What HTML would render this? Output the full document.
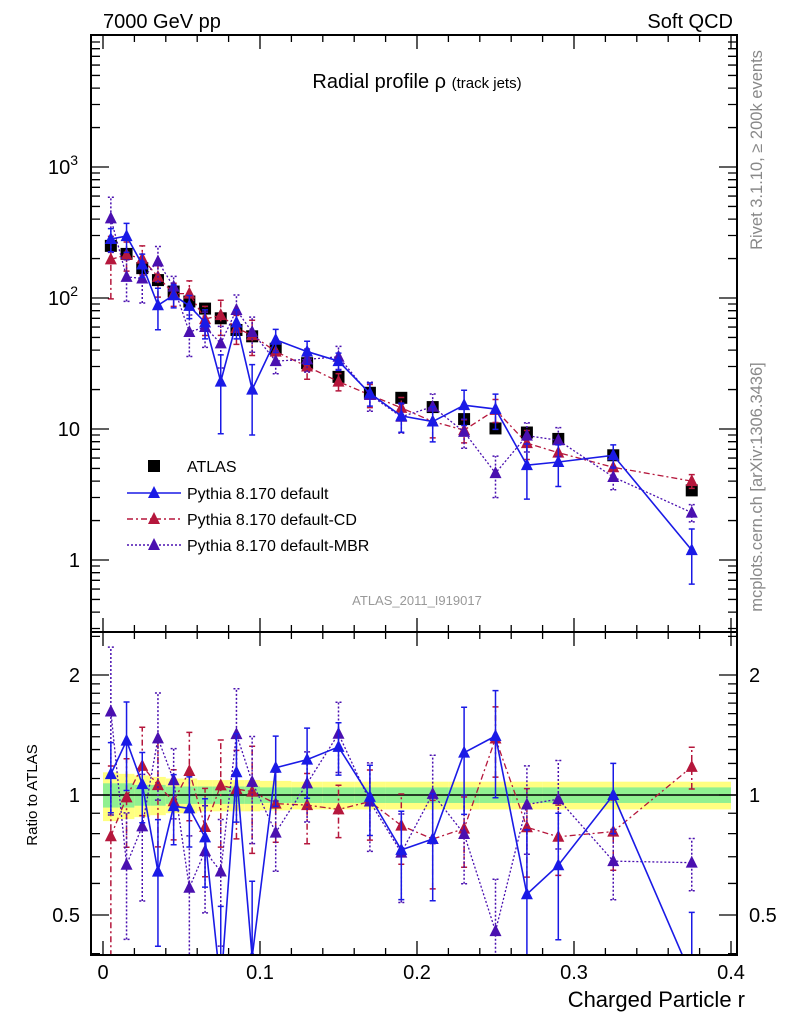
<!DOCTYPE html>
<html><head><meta charset="utf-8">
<style>
html,body{margin:0;padding:0;background:#fff;width:786px;height:1024px;overflow:hidden;}
svg{display:block;font-family:"Liberation Sans","DejaVu Sans",sans-serif;}
</style></head>
<body>
<svg id="chart" width="786" height="1024" viewBox="0 0 786 1024" xmlns="http://www.w3.org/2000/svg">
<defs>
<clipPath id="clipTop"><rect x="91" y="35" width="646" height="597"/></clipPath>
<clipPath id="clipBot"><rect x="91" y="632" width="646" height="323"/></clipPath>
</defs>
<rect x="0" y="0" width="786" height="1024" fill="#fff"/>
<g id="bands" clip-path="url(#clipBot)"></g>
<g id="topMarks" clip-path="url(#clipTop)"></g>
<g id="botMarks" clip-path="url(#clipBot)"></g>
<g id="axes"></g>
<text x="103" y="28" font-size="20">7000 GeV pp</text>
<text x="733" y="28" font-size="20" text-anchor="end">Soft QCD</text>
<text x="417" y="88" font-size="20" text-anchor="middle">Radial profile ρ <tspan font-size="15">(track jets)</tspan></text>
<text x="417" y="605" font-size="13" fill="#999" text-anchor="middle">ATLAS_2011_I919017</text>
<text transform="translate(762,150) rotate(-90)" font-size="16.5" fill="#888" text-anchor="middle">Rivet 3.1.10, ≥ 200k events</text>
<text transform="translate(762,487) rotate(-90)" font-size="16.5" fill="#888" text-anchor="middle">mcplots.cern.ch [arXiv:1306.3436]</text>
<text transform="translate(37,795) rotate(-90)" font-size="15" text-anchor="middle">Ratio to ATLAS</text>
<text x="745" y="1007" font-size="22" text-anchor="end">Charged Particle r</text>
<g id="legend"></g>
</svg>
<script>
const xs = [0.005,0.015,0.025,0.035,0.045,0.055,0.065,0.075,0.085,0.095,0.11,0.13,0.15,0.17,0.19,0.21,0.23,0.25,0.27,0.29,0.325,0.375];
const binEdges = [0,0.01,0.02,0.03,0.04,0.05,0.06,0.07,0.08,0.09,0.1,0.12,0.14,0.16,0.18,0.2,0.22,0.24,0.26,0.28,0.3,0.35,0.4];
const atlas = [250,217,169,137,112,94,83,70,57,51,41,31.8,25,18.9,17.3,14.7,11.9,10.1,9.4,8.4,6.3,3.4];
const pyDefault = [282,297,180,88,105,87,65,23,65,20,48,39,33,18.7,12.6,11.4,15.2,14.2,5.3,5.6,6.3,1.19];
const pyDefaultErr = [0.2,0.25,0.2,0.35,0.2,0.2,0.25,0.6,0.25,0.55,0.2,0.2,0.15,0.2,0.25,0.3,0.3,0.3,0.45,0.35,0.2,0.45];
const pyCD = [197,214,200,145,108,108,69,74,59,52,39,30,23,18.2,14.5,11.4,9.8,14,7.8,6.6,5.1,4.0];
const pyCDErr = [0.5,0.25,0.25,0.3,0.2,0.25,0.25,0.3,0.25,0.3,0.2,0.2,0.15,0.2,0.2,0.25,0.2,0.2,0.25,0.2,0.2,0.12];
const pyMBR = [405,145,141,190,122,55,60,45,81,55,33,34,35.6,18.2,12.4,14.8,9.5,4.6,8.9,8.2,4.3,2.3];
const pyMBRErr = [0.45,0.35,0.35,0.3,0.2,0.35,0.3,0.35,0.3,0.3,0.2,0.2,0.2,0.25,0.25,0.25,0.25,0.35,0.25,0.25,0.2,0.15];
const statBand = [0.07,0.07,0.06,0.06,0.05,0.05,0.05,0.05,0.05,0.05,0.045,0.045,0.045,0.045,0.045,0.045,0.045,0.045,0.045,0.045,0.045,0.045];
const totBand = [0.14,0.13,0.12,0.11,0.1,0.1,0.09,0.09,0.09,0.09,0.085,0.08,0.08,0.08,0.08,0.08,0.08,0.08,0.08,0.08,0.08,0.08];
const topTicks = [1,10,100,1000];
const topTickLabels = ["1","10","10²","10³"];
const ratioTicks = [0.5,1,2];
const ratioTickLabels = ["0.5","1","2"];
const xTicks = [0,0.1,0.2,0.3,0.4];
const xTickLabels = ["0","0.1","0.2","0.3","0.4"];

const NS="http://www.w3.org/2000/svg";
const X0=103, XS=1570;
function xPix(v){return X0+v*XS;}
function yTop(v){return 560-Math.log10(v)*131;}
function yBot(r){return 795-Math.log2(r)*120;}
function mk(tag,attrs,parent){const e=document.createElementNS(NS,tag);for(const k in attrs)e.setAttribute(k,attrs[k]);parent.appendChild(e);return e;}

const topG=document.getElementById('topMarks');
const botG=document.getElementById('botMarks');
const bandG=document.getElementById('bands');
const axG=document.getElementById('axes');

for(let i=0;i<xs.length;i++){
  const x1=xPix(binEdges[i]), x2=xPix(binEdges[i+1]);
  const y=mk('rect',{x:x1,y:yBot(1+totBand[i]),width:x2-x1,height:yBot(1-totBand[i])-yBot(1+totBand[i]),fill:'#ffff80'},bandG);
  
  
  const g=mk('rect',{x:x1,y:yBot(1+statBand[i]),width:x2-x1,height:yBot(1-statBand[i])-yBot(1+statBand[i]),fill:'#90f090'},bandG);
  
  
}
const one=mk('line',{x1:91,x2:737,y1:yBot(1),y2:yBot(1),stroke:'#000','stroke-width':1.5},bandG);



function tri(g,x,y,col,name){
  const p=mk('polygon',{points:`${x-6},${y+5} ${x+6},${y+5} ${x},${y-7}`,fill:col},g);
  
  
}
function drawSeries(vals,errs,col,dash,width,name){
  let pts=[],ptsR=[];
  for(let i=0;i<xs.length;i++){
    const x=xPix(xs[i]);
    pts.push(x+','+yTop(vals[i]));
    const r=vals[i]/atlas[i];
    ptsR.push(x+','+yBot(r));
    const lo=vals[i]*(1-errs[i]), hi=vals[i]*(1+errs[i]);
    const e=mk('path',{d:`M${x},${yTop(lo)}V${yTop(hi)}M${x-3},${yTop(lo)}h6M${x-3},${yTop(hi)}h6`,stroke:col,'stroke-width':1.5,fill:'none','stroke-dasharray':dash},topG);
    
    
    const rl=Math.max(r*(1-errs[i]),0.35), rh=r*(1+errs[i]);
    const e2=mk('path',{d:`M${x},${yBot(rl)}V${yBot(rh)}M${x-3},${yBot(rl)}h6M${x-3},${yBot(rh)}h6`,stroke:col,'stroke-width':1.5,fill:'none','stroke-dasharray':dash},botG);
    
    
  }
  const l=mk('polyline',{points:pts.join(' '),stroke:col,'stroke-width':width,fill:'none','stroke-dasharray':dash},topG);
  
  
  const l2=mk('polyline',{points:ptsR.join(' '),stroke:col,'stroke-width':width,fill:'none','stroke-dasharray':dash},botG);
  
  
  for(let i=0;i<xs.length;i++){
    tri(topG,xPix(xs[i]),yTop(vals[i]),col,name+'-point');
    tri(botG,xPix(xs[i]),yBot(vals[i]/atlas[i]),col,name+'-ratio-point');
  }
}
for(let i=0;i<xs.length;i++){
  const s=mk('rect',{x:xPix(xs[i])-6,y:yTop(atlas[i])-6,width:12,height:12,fill:'#000'},topG);
  
  
}
const BLUE='#1a1ae6', RED='#b5173c', PUR='#4a10b0';
drawSeries(pyCD,pyCDErr,RED,'6,3,2,3',1.3,'pythia-default-cd');
drawSeries(pyMBR,pyMBRErr,PUR,'2,2',1.3,'pythia-default-mbr');
drawSeries(pyDefault,pyDefaultErr,BLUE,'',1.6,'pythia-default');

function frame(y1,y2,name){
  const r=mk('rect',{x:91,y:y1,width:646,height:y2-y1,fill:'none',stroke:'#000','stroke-width':2},axG);
  
  
}
frame(35,632,'main-plot-frame');
frame(632,955,'ratio-plot-frame');
let tp='';
for(let k=0;k<=20;k++){
  const v=k*0.02, x=xPix(v), L=(k%5==0)?14:7;
  tp+=`M${x},35v${L}M${x},632v${-L}M${x},632v${L}M${x},955v${-L}`;
}
for(let d=-1;d<=3;d++){for(let m=1;m<10;m++){
  const v=m*Math.pow(10,d), y=yTop(v); if(y<35||y>632)continue;
  const L=m==1?18:9;
  tp+=`M91,${y}h${L}M737,${y}h${-L}`;
}}
[0.4,0.5,0.6,0.7,0.8,0.9,1,1.1,1.2,1.3,1.4,1.5,1.6,1.7,1.8,1.9,2,2.5].forEach(v=>{
  const y=yBot(v); if(y<632||y>955)return;
  const L=(v==0.5||v==1||v==2)?18:9;
  tp+=`M91,${y}h${L}M737,${y}h${-L}`;
});
const tk=mk('path',{d:tp,stroke:'#000','stroke-width':1.3,fill:'none'},axG);


function lab(x,y,t,anchor,size,name){
  const e=mk('text',{x:x,y:y,'font-size':size,'text-anchor':anchor},axG);e.textContent=t;
  
  
  return e;
}
topTicks.forEach((v,i)=>{
  const y=yTop(v)+7;
  if(v>=100){
    const e=lab(78,y,'10','end',20,'y-tick-label');
    const s=document.createElementNS(NS,'tspan');s.setAttribute('dy','-9');s.setAttribute('font-size','14');s.textContent=v==100?'2':'3';e.appendChild(s);
  } else lab(80,y,topTickLabels[i],'end',20,'y-tick-label');
});
ratioTicks.forEach((v,i)=>{
  lab(80,yBot(v)+7,ratioTickLabels[i],'end',20,'ratio-tick-label-left');
  lab(749,yBot(v)+7,ratioTickLabels[i],'start',20,'ratio-tick-label-right');
});
xTicks.forEach((v,i)=>{lab(xPix(v),979,xTickLabels[i],'middle',20,'x-tick-label');});

const lg=document.getElementById('legend');
const LY=[466,493,519,545];
const ls=mk('rect',{x:148,y:LY[0]-6,width:12,height:12,fill:'#000'},lg);


const names=['ATLAS','Pythia 8.170 default','Pythia 8.170 default-CD','Pythia 8.170 default-MBR'];
const cols=[null,BLUE,RED,PUR], dashes=[null,'','6,3,2,3','2,2'];
for(let i=0;i<4;i++){
  if(i>0){
    const l=mk('line',{x1:127,x2:181,y1:LY[i],y2:LY[i],stroke:cols[i],'stroke-width':1.4,'stroke-dasharray':dashes[i]},lg);
    
    
    tri(lg,154,LY[i],cols[i],'legend-marker');
  }
  const t=mk('text',{x:187,y:LY[i]+6,'font-size':16},lg);t.textContent=names[i];
  
  
}
</script>
</body></html>
